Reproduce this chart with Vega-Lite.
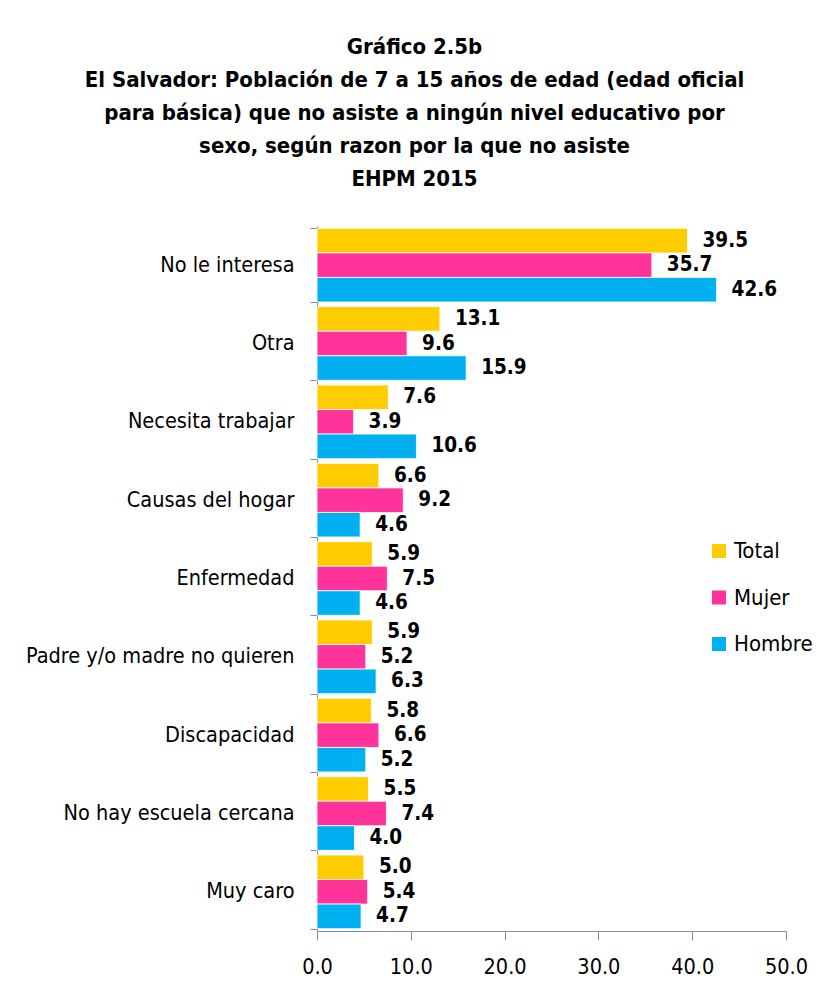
{
  "$schema": "https://vega.github.io/schema/vega-lite/v6.json",
  "width": 469,
  "height": 705,
  "autosize": {"type": "none"},
  "padding": {"left": 317, "top": 226, "right": 42, "bottom": 57},
  "background": "white",
  "title": {
    "text": ["Gráfico 2.5b", "El Salvador: Población de 7 a 15 años de edad (edad oficial", "para básica) que no asiste a ningún nivel educativo por", "sexo, según razon por la que no asiste", "EHPM 2015"],
    "font": "DejaVu Sans Condensed, sans-serif",
    "fontSize": 22,
    "fontWeight": "bold",
    "color": "black",
    "lineHeight": 33,
    "anchor": "middle",
    "dx": -137,
    "offset": 24
  },
  "data": {
    "values": [
      {"razon": "No le interesa", "sexo": "Total", "valor": 39.5},
      {"razon": "No le interesa", "sexo": "Mujer", "valor": 35.7},
      {"razon": "No le interesa", "sexo": "Hombre", "valor": 42.6},
      {"razon": "Otra", "sexo": "Total", "valor": 13.1},
      {"razon": "Otra", "sexo": "Mujer", "valor": 9.6},
      {"razon": "Otra", "sexo": "Hombre", "valor": 15.9},
      {"razon": "Necesita trabajar", "sexo": "Total", "valor": 7.6},
      {"razon": "Necesita trabajar", "sexo": "Mujer", "valor": 3.9},
      {"razon": "Necesita trabajar", "sexo": "Hombre", "valor": 10.6},
      {"razon": "Causas del hogar", "sexo": "Total", "valor": 6.6},
      {"razon": "Causas del hogar", "sexo": "Mujer", "valor": 9.2},
      {"razon": "Causas del hogar", "sexo": "Hombre", "valor": 4.6},
      {"razon": "Enfermedad", "sexo": "Total", "valor": 5.9},
      {"razon": "Enfermedad", "sexo": "Mujer", "valor": 7.5},
      {"razon": "Enfermedad", "sexo": "Hombre", "valor": 4.6},
      {"razon": "Padre y/o madre no quieren", "sexo": "Total", "valor": 5.9},
      {"razon": "Padre y/o madre no quieren", "sexo": "Mujer", "valor": 5.2},
      {"razon": "Padre y/o madre no quieren", "sexo": "Hombre", "valor": 6.3},
      {"razon": "Discapacidad", "sexo": "Total", "valor": 5.8},
      {"razon": "Discapacidad", "sexo": "Mujer", "valor": 6.6},
      {"razon": "Discapacidad", "sexo": "Hombre", "valor": 5.2},
      {"razon": "No hay escuela cercana", "sexo": "Total", "valor": 5.5},
      {"razon": "No hay escuela cercana", "sexo": "Mujer", "valor": 7.4},
      {"razon": "No hay escuela cercana", "sexo": "Hombre", "valor": 4.0},
      {"razon": "Muy caro", "sexo": "Total", "valor": 5.0},
      {"razon": "Muy caro", "sexo": "Mujer", "valor": 5.4},
      {"razon": "Muy caro", "sexo": "Hombre", "valor": 4.7}
    ]
  },
  "encoding": {
    "y": {
      "field": "razon",
      "type": "nominal",
      "sort": null,
      "title": null,
      "scale": {"paddingInner": 0.06, "paddingOuter": 0.03},
      "axis": {
        "domainColor": "#8c8c8c",
        "tickColor": "#8c8c8c",
        "tickBand": "extent",
        "tickSize": 7,
        "labelPadding": 16,
        "labelFont": "DejaVu Sans Condensed, sans-serif",
        "labelFontSize": 21.5,
        "labelColor": "black",
        "labelLimit": 400
      }
    },
    "yOffset": {
      "field": "sexo",
      "type": "nominal",
      "sort": ["Total", "Mujer", "Hombre"],
      "scale": {"paddingInner": 0, "paddingOuter": 0}
    },
    "x": {
      "field": "valor",
      "type": "quantitative",
      "title": null,
      "scale": {"domain": [0, 50], "nice": false},
      "axis": {
        "values": [0, 10, 20, 30, 40, 50],
        "format": ".1f",
        "grid": false,
        "domainColor": "#8c8c8c",
        "tickColor": "#8c8c8c",
        "tickSize": 9,
        "labelPadding": 16,
        "labelFont": "DejaVu Sans Condensed, sans-serif",
        "labelFontSize": 21.5,
        "labelColor": "black",
        "labelFlush": false
      }
    }
  },
  "layer": [
    {
      "mark": {"type": "bar", "stroke": "white", "strokeWidth": 0.8},
      "encoding": {
        "color": {
          "field": "sexo",
          "type": "nominal",
          "sort": ["Total", "Mujer", "Hombre"],
          "scale": {"domain": ["Total", "Mujer", "Hombre"], "range": ["#FFCC00", "#FF3399", "#00B0F0"]},
          "legend": {
            "title": null,
            "orient": "none",
            "legendX": 391,
            "legendY": 314,
            "symbolType": "square",
            "symbolSize": 196,
            "symbolStrokeWidth": 0,
            "labelFont": "DejaVu Sans Condensed, sans-serif",
            "labelFontSize": 22,
            "labelColor": "black",
            "labelOffset": 4,
            "rowPadding": 24.5
          }
        }
      }
    },
    {
      "mark": {
        "type": "text",
        "align": "left",
        "baseline": "middle",
        "dx": 15,
        "font": "DejaVu Sans Condensed, sans-serif",
        "fontSize": 20.5,
        "fontWeight": "bold",
        "color": "black"
      },
      "encoding": {
        "text": {"field": "valor", "type": "quantitative", "format": ".1f"}
      }
    }
  ],
  "config": {
    "view": {"stroke": null}
  }
}
